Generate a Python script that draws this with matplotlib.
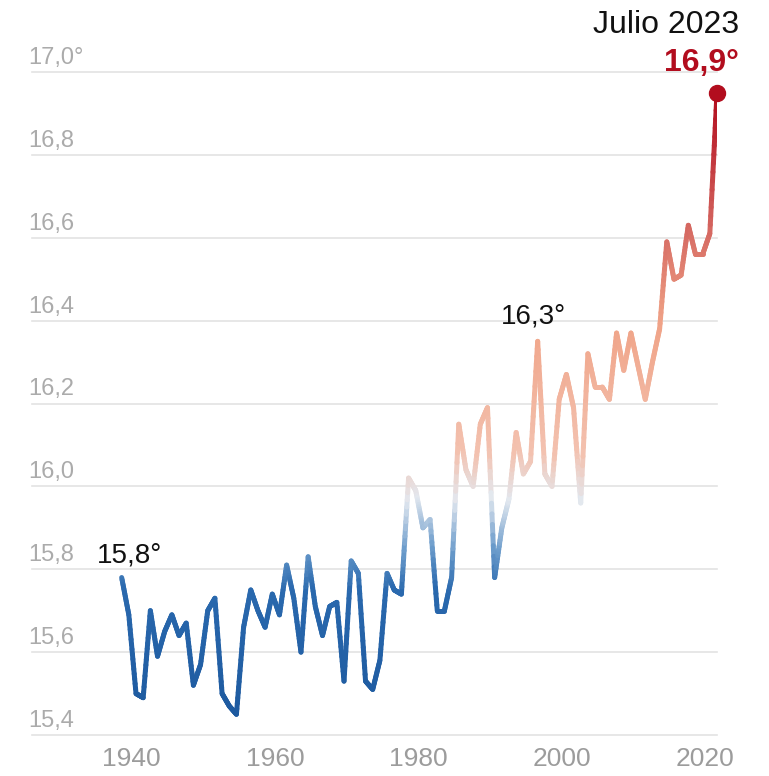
import numpy as np
import matplotlib
matplotlib.use("Agg")
import matplotlib.pyplot as plt
from matplotlib.collections import LineCollection
from matplotlib.colors import LinearSegmentedColormap, Normalize
from matplotlib.transforms import ScaledTranslation

# July global mean temperature, degrees C
years = list(range(1940, 2024))
temps = [15.78, 15.69, 15.50, 15.49, 15.70, 15.59, 15.65, 15.69, 15.64, 15.67,
         15.52, 15.57, 15.70, 15.73, 15.50, 15.47, 15.45, 15.66, 15.75, 15.70,
         15.66, 15.74, 15.69, 15.81, 15.73, 15.60, 15.83, 15.71, 15.64, 15.71,
         15.72, 15.53, 15.82, 15.79, 15.53, 15.51, 15.58, 15.79, 15.75, 15.74,
         16.02, 15.99, 15.90, 15.92, 15.70, 15.70, 15.78, 16.15, 16.04, 16.00,
         16.15, 16.19, 15.78, 15.90, 15.97, 16.13, 16.03, 16.06, 16.35, 16.03,
         16.00, 16.21, 16.27, 16.19, 15.96, 16.32, 16.24, 16.24, 16.21, 16.37,
         16.28, 16.37, 16.29, 16.21, 16.30, 16.38, 16.59, 16.50, 16.51, 16.63,
         16.56, 16.56, 16.61, 16.95]

y_ticks = [15.4, 15.6, 15.8, 16.0, 16.2, 16.4, 16.6, 16.8, 17.0]
y_labels = ["15,4", "15,6", "15,8", "16,0", "16,2", "16,4", "16,6", "16,8", "17,0°"]
x_ticks = [1940, 1960, 1980, 2000, 2020]

# colour ramp keyed on temperature
stop_temps = [15.4, 15.75, 15.85, 15.97, 16.08, 16.4, 16.6, 16.95]
stop_colors = ["#1b579d", "#2a69ae", "#6d9dcc", "#e3e8ef", "#f3c2b0",
               "#f0a387", "#d86f66", "#b20d1e"]


def main():
    plt.rcParams["font.family"] = ["Liberation Sans", "DejaVu Sans"]

    fig = plt.figure(figsize=(7.69, 7.76), dpi=100)
    ax = fig.add_axes([32 / 769, 41 / 776, 685 / 769, 663 / 776])

    lo, hi = stop_temps[0], stop_temps[-1]
    cmap = LinearSegmentedColormap.from_list(
        "heat", [((t - lo) / (hi - lo), c) for t, c in zip(stop_temps, stop_colors)])
    norm = Normalize(lo, hi)

    # split each yearly step so the colour follows the height of the line
    x = np.array(years, dtype=float)
    y = np.array(temps)
    segs, mids = [], []
    for i in range(len(x) - 1):
        t = np.linspace(0, 1, 17)
        xs = x[i] + (x[i + 1] - x[i]) * t
        ys = y[i] + (y[i + 1] - y[i]) * t
        for j in range(len(t) - 1):
            segs.append([(xs[j], ys[j]), (xs[j + 1], ys[j + 1])])
            mids.append((ys[j] + ys[j + 1]) / 2)
    lc = LineCollection(segs, cmap=cmap, norm=norm, linewidths=3.6,
                        capstyle="round", joinstyle="round", zorder=3)
    lc.set_array(np.array(mids))
    ax.add_collection(lc)

    ax.plot(years[-1], temps[-1], "o", color="#b20d1e", ms=11.5, clip_on=False, zorder=5)

    ax.set_xlim(1927.5, 2023)
    ax.set_ylim(15.4, 17.0)

    for s in ax.spines.values():
        s.set_visible(False)

    ax.set_yticks(y_ticks, y_labels)
    ax.grid(axis="y", color="#e3e3e3", lw=1.2)
    ax.set_axisbelow(True)
    for gl in ax.get_ygridlines():
        gl.set_clip_on(False)
    ax.tick_params(axis="y", length=0, pad=0, labelsize=17, labelcolor="#ababab")
    for lab in ax.get_yticklabels():
        lab.set_ha("left")
        lab.set_va("bottom")
        lab.set_transform(lab.get_transform()
                          + ScaledTranslation(-0.04, 0.03, fig.dpi_scale_trans))

    ax.set_xticks(x_ticks)
    ax.tick_params(axis="x", length=0, pad=9, labelsize=19, labelcolor="#9c9c9c")
    for lab in ax.get_xticklabels():
        lab.set_transform(lab.get_transform()
                          + ScaledTranslation(0.10, 0, fig.dpi_scale_trans))

    # annotations
    ax.annotate("15,8°", xy=(years[0], temps[0]), xytext=(-25, 15),
                textcoords="offset pixels", ha="left", va="baseline",
                fontsize=20, color="#111111", annotation_clip=False)
    i98 = years.index(1998)
    ax.annotate("16,3°", xy=(years[i98], temps[i98]), xytext=(-4, 18),
                textcoords="offset pixels", ha="center", va="baseline",
                fontsize=20, color="#111111", annotation_clip=False)
    ax.annotate("Julio 2023", xy=(years[-1], temps[-1]), xytext=(22, 60),
                textcoords="offset pixels", ha="right", va="baseline",
                fontsize=23, color="#111111", annotation_clip=False)
    ax.annotate("16,9°", xy=(years[-1], temps[-1]), xytext=(22, 22),
                textcoords="offset pixels", ha="right", va="baseline",
                fontsize=23, fontweight="bold", color="#b20d1e",
                annotation_clip=False)

    plt.savefig("out.png", dpi=100)


if __name__ == "__main__":
    main()
